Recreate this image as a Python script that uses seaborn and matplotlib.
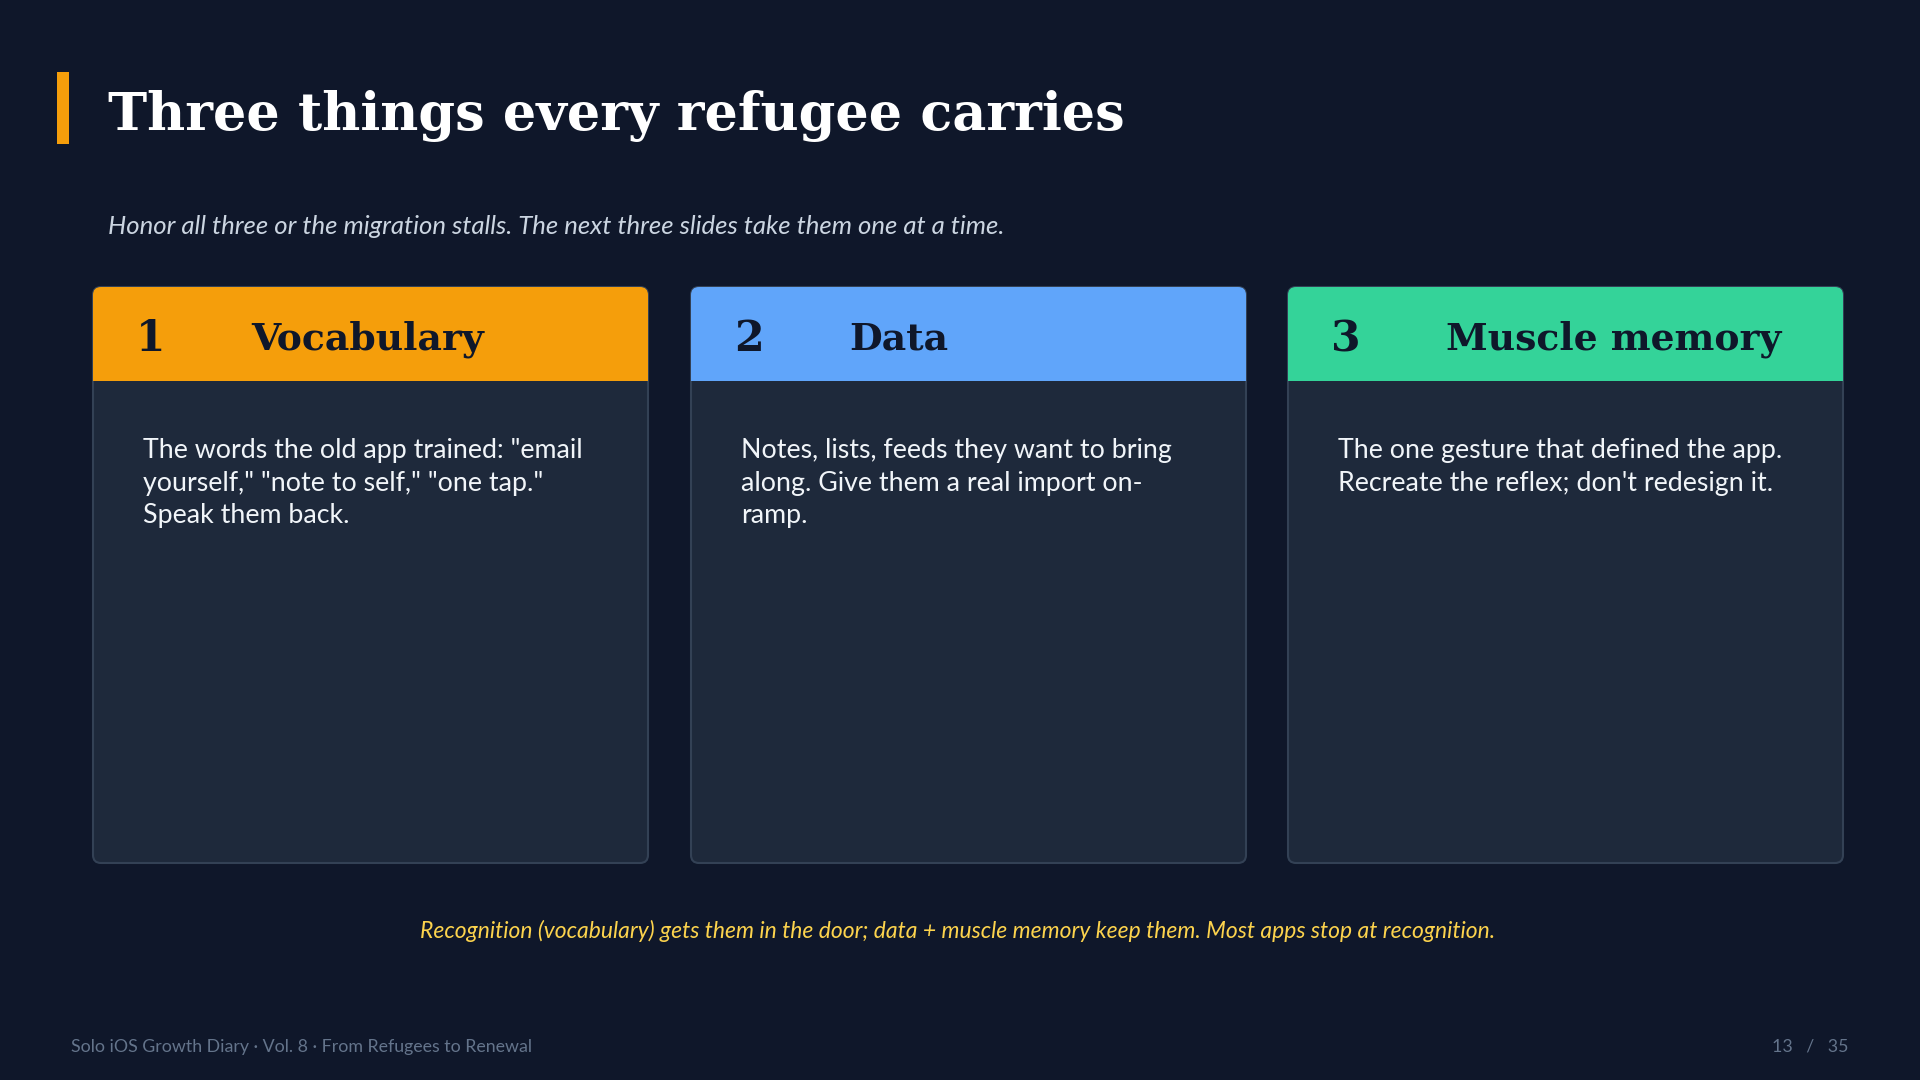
import matplotlib
matplotlib.use('Agg')
import matplotlib.pyplot as plt
import seaborn as sns
from matplotlib.patches import FancyBboxPatch, Rectangle

# slide text
title = 'Three things every refugee carries'
subtitle = 'Honor all three or the migration stalls. The next three slides take them one at a time.'
card_numbers = ['1', '2', '3']
card_titles = ['Vocabulary', 'Data', 'Muscle memory']
card_lines = [
    ['The words the old app trained: "email', 'yourself," "note to self," "one tap."', 'Speak them back.'],
    ['Notes, lists, feeds they want to bring', 'along. Give them a real import on-', 'ramp.'],
    ['The one gesture that defined the app.', "Recreate the reflex; don't redesign it."],
]
callout = 'Recognition (vocabulary) gets them in the door; data + muscle memory keep them. Most apps stop at recognition.'
footer_left = 'Solo iOS Growth Diary · Vol. 8 · From Refugees to Renewal'
footer_right = '13   /   35'

BG = '#0f172a'
CARD = '#1e293b'
BORDER = '#334155'
header_colors = ['#f59e0b', '#60a5fa', '#34d399']

sns.set_theme(style='dark', rc={'figure.facecolor': BG, 'axes.facecolor': BG})
plt.rcParams['font.family'] = ['Lato', 'DejaVu Sans']

fig = plt.figure(figsize=(19.2, 10.8), dpi=100)
ax = fig.add_axes([0, 0, 1, 1])
ax.set_xlim(0, 1920)
ax.set_ylim(1080, 0)
ax.axis('off')

def pt(px):
    return px * 0.72

# title block
ax.add_patch(Rectangle((57, 72), 12, 72, color='#f59e0b', lw=0))
ax.text(108, 130, title, fontsize=pt(52.5), fontweight='bold', family='DejaVu Serif',
        color='white', va='baseline', ha='left')
ax.text(108, 234, subtitle, fontsize=pt(25.7), style='italic', color='#cbd5e1',
        va='baseline', ha='left')

# cards
card_x = [93, 691, 1288]
card_w, card_top, card_bot, head_h = 555, 287, 863, 94
for i, x0 in enumerate(card_x):
    card = FancyBboxPatch((x0, card_top), card_w, card_bot - card_top,
                          boxstyle='round,pad=0,rounding_size=8',
                          facecolor=CARD, edgecolor=BORDER, lw=1.5, zorder=2)
    ax.add_patch(card)
    head = Rectangle((x0, card_top), card_w, head_h, facecolor=header_colors[i],
                     lw=0, zorder=3)
    ax.add_patch(head)
    head.set_clip_path(card)
    ax.text(x0 + 43, card_top + 64, card_numbers[i], fontsize=pt(42.5), fontweight='bold',
            family='DejaVu Serif', color=BG, va='baseline', ha='left', zorder=4)
    ax.text(x0 + 158, card_top + 62, card_titles[i], fontsize=pt(37.8), fontweight='bold',
            family='DejaVu Serif', color=BG, va='baseline', ha='left', zorder=4)
    for j, line in enumerate(card_lines[i]):
        ax.text(x0 + 50, 458 + j * 32.5, line, fontsize=pt(26.8), color='#f1f5f9',
                va='baseline', ha='left', zorder=4)

ax.text(958, 938, callout, fontsize=pt(22.9), style='italic', color='#fcd34d',
        va='baseline', ha='center')
ax.text(71, 1052, footer_left, fontsize=pt(17.7), color='#64748b', va='baseline', ha='left')
ax.text(1848, 1052, footer_right, fontsize=pt(17.7), color='#64748b', va='baseline', ha='right')

fig.savefig('out.png', dpi=100, facecolor=BG)
